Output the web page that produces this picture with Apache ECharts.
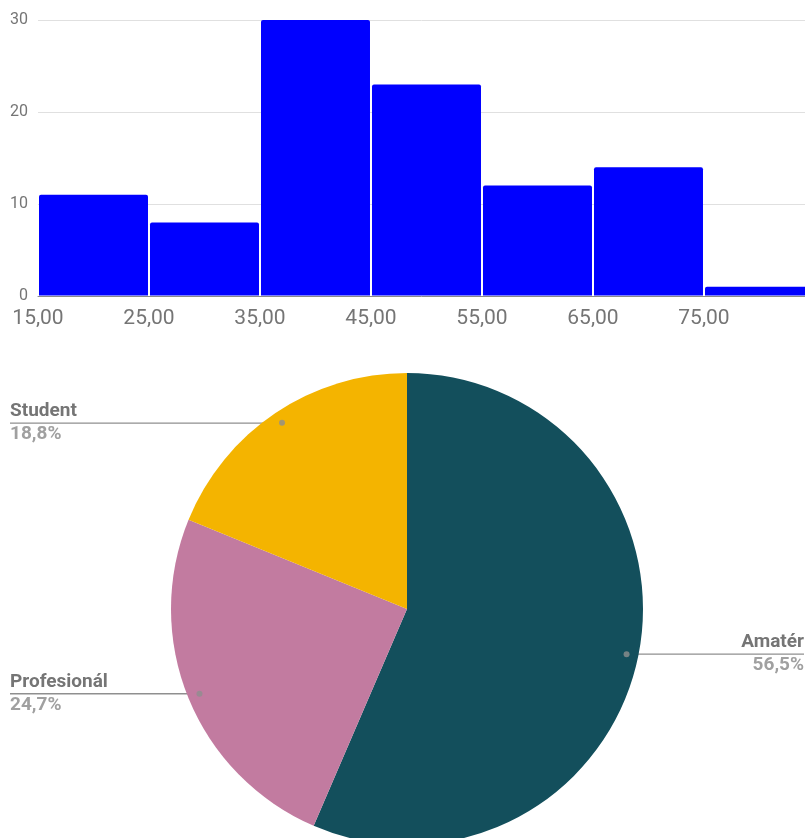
<!DOCTYPE html>
<html>
<head>
<meta charset="utf-8">
<style>
html,body{margin:0;padding:0;background:#fff;}
#c{width:805px;height:838px;}
</style>
<script src="https://cdn.jsdelivr.net/npm/echarts@6/dist/echarts.min.js"></script>
</head>
<body>
<div id="c"></div>
<script>
// Histogram data
const binStarts = [15, 25, 35, 45, 55, 65, 75];
const binWidth = 10;
const binCounts = [11, 8, 30, 23, 12, 14, 1];
const yTicks = [0, 10, 20, 30];
const xMin = 15;
const xMaxVisible = 84.1; // the last bin is cropped by the picture edge

// Pie data
const pieNames = ['Amatér', 'Profesionál', 'Student'];
const pieValues = [48, 21, 16];
const pieColors = ['#134f5c', '#c27ba0', '#f4b400'];

const total = pieValues.reduce((a, b) => a + b, 0);
const pct = pieValues.map(v => v / total * 100);
const fmtPct = p => p.toFixed(1).replace('.', ',') + '%';

// mid angles in percent for dots
const mids = [];
let acc = 0;
pct.forEach(p => { mids.push(acc + p / 2); acc += p; });

const histData = binStarts.map((s, i) => [s, s + binWidth, binCounts[i]]);

const chart = echarts.init(document.getElementById('c'));
const font = 'Roboto, sans-serif';

const leftLabel = ['Student', 'Profesionál'];
const labelSize = 19;
function textW(str, size) {
  const cv = document.createElement('canvas').getContext('2d');
  cv.font = 'bold ' + size + 'px Roboto';
  return cv.measureText(str).width;
}

chart.setOption({
  animation: false,
  grid: { left: 38, top: 20, right: 0, bottom: 542, containLabel: false },
  xAxis: {
    type: 'value', min: xMin, max: xMaxVisible, interval: 10,
    axisLine: { show: true, lineStyle: { color: '#8a8a8a', width: 1 } },
    axisTick: { show: false },
    splitLine: { show: false },
    axisLabel: {
      showMaxLabel: false, margin: 12,
      color: '#757575', fontSize: 21, fontFamily: font,
      formatter: v => v.toFixed(2).replace('.', ',')
    }
  },
  yAxis: {
    type: 'value', min: yTicks[0], max: yTicks[yTicks.length - 1], interval: 10,
    axisLine: { show: false }, axisTick: { show: false },
    splitLine: { lineStyle: { color: '#e0e0e0', width: 1 } },
    axisLabel: { color: '#757575', fontSize: 16, fontFamily: font, margin: 10 }
  },
  polar: { center: [407, 609], radius: 236 },
  angleAxis: { type: 'value', min: 0, max: 100, startAngle: 90, clockwise: true, show: false },
  radiusAxis: { type: 'value', min: 0, max: 1, show: false },
  series: [
    {
      type: 'custom',
      coordinateSystem: 'cartesian2d',
      clip: false,
      data: histData,
      encode: { x: [0, 1], y: 2 },
      renderItem: function (params, api) {
        const p0 = api.coord([api.value(0), api.value(2)]);
        const p1 = api.coord([api.value(1), 0]);
        return {
          type: 'rect',
          shape: { x: p0[0] + 1, y: p0[1], width: p1[0] - p0[0] - 2, height: p1[1] - p0[1] - 0.5, r: [2, 2, 0, 0] },
          style: { fill: '#0000ff' }
        };
      }
    },
    {
      type: 'pie',
      center: [407, 609],
      radius: 236,
      startAngle: 90,
      clockwise: true,
      silent: true,
      label: { show: false },
      labelLine: { show: false },
      emphasis: { disabled: true },
      data: pieNames.map((n, i) => ({ name: n, value: pieValues[i], itemStyle: { color: pieColors[i] } }))
    },
    {
      type: 'pie',
      center: [407, 609],
      radius: 224,
      startAngle: 90,
      clockwise: true,
      silent: true,
      emphasis: { disabled: true },
      itemStyle: { color: 'rgba(0,0,0,0)' },
      labelLine: { show: true, length: 0, length2: 20, lineStyle: { color: '#8f8f8f', width: 1.3 } },
      data: pieNames.map((n, i) => {
        const isLeft = leftLabel.indexOf(n) >= 0;
        const w = Math.max(textW(n, labelSize), textW(fmtPct(pct[i]), labelSize));
        return {
          name: n, value: pieValues[i],
          label: {
            show: true, position: 'outside', alignTo: 'edge',
            edgeDistance: isLeft ? 10 : 1,
            distanceToLabelLine: -w,
            formatter: '{n|' + n + '}\n{p|' + fmtPct(pct[i]) + '}',
            rich: {
              n: { fontFamily: font, fontWeight: 'bold', fontSize: labelSize, color: '#757575', lineHeight: 23, align: isLeft ? 'left' : 'right' },
              p: { fontFamily: font, fontWeight: 'bold', fontSize: labelSize, color: '#a0a0a0', lineHeight: 23, align: isLeft ? 'left' : 'right' }
            }
          }
        };
      })
    },
    {
      type: 'scatter',
      coordinateSystem: 'polar',
      symbol: 'circle',
      symbolSize: 6,
      silent: true,
      z: 5,
      itemStyle: { color: '#8f8f8f' },
      data: mids.map(m => [0.95, m])
    }
  ]
});
</script>
</body>
</html>
